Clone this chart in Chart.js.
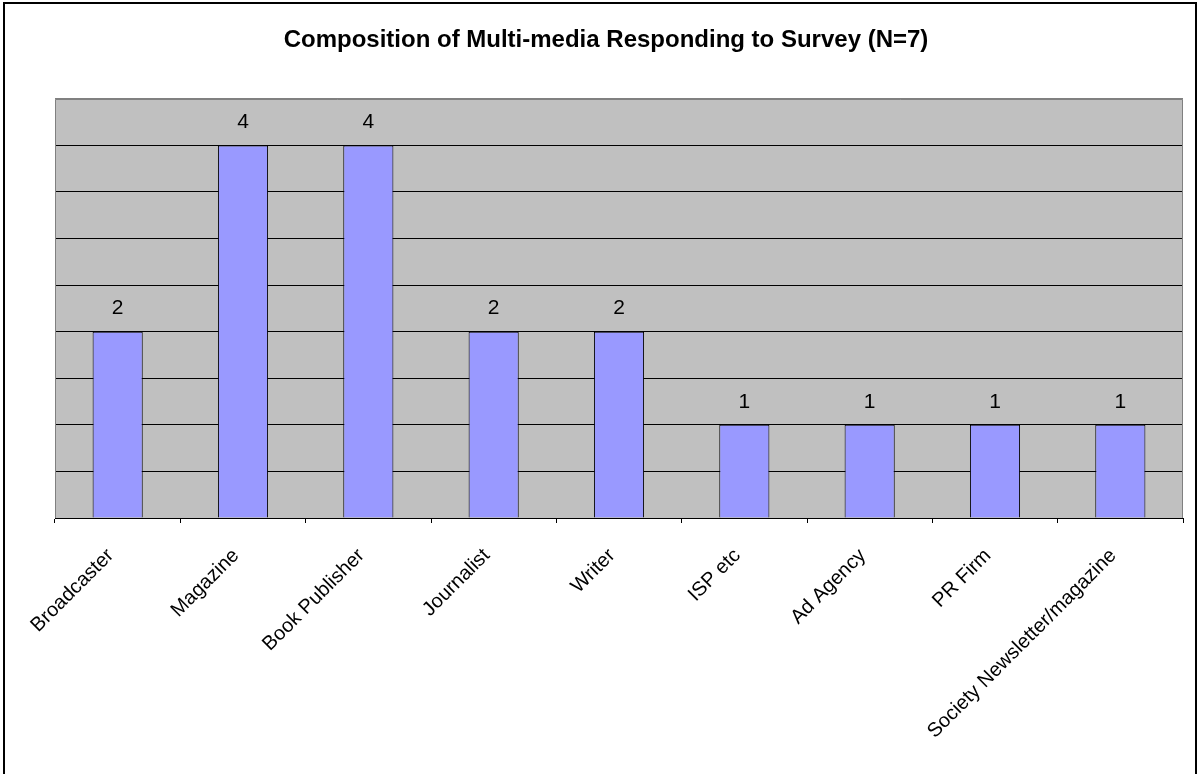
<!DOCTYPE html>
<html>
<head>
<meta charset="utf-8">
<script src="https://cdn.jsdelivr.net/npm/chart.js@4/dist/chart.umd.min.js"></script>
<style>
  html, body { margin: 0; padding: 0; background: #fff; }
  #wrap { width: 1199px; height: 774px; }
</style>
</head>
<body>
<div id="wrap"><canvas id="mediaChart" width="1199" height="774"></canvas></div>
<script>
let categories = ["Broadcaster", "Magazine", "Book Publisher", "Journalist", "Writer",
    "ISP etc", "Ad Agency", "PR Firm", "Society Newsletter/magazine"];
let counts = [2, 4, 4, 2, 2, 1, 1, 1, 1];
let yMax = 4.5;
let yStep = 0.5;

let FONT = "Arial, 'Liberation Sans', sans-serif";

// white page, outer frame and grey plot background
let framePlugin = {
    id: "frame",
    beforeDraw(chart) {
        let c = chart.ctx;
        let a = chart.chartArea;
        c.save();
        c.fillStyle = "#fff";
        c.fillRect(0, 0, chart.width, chart.height);
        c.strokeStyle = "#000";
        c.lineWidth = 2;
        c.strokeRect(4, 3, 1192, 800);
        c.fillStyle = "#c0c0c0";
        c.fillRect(a.left, a.top, a.right - a.left, a.bottom - a.top);
        c.restore();
    },
    beforeDatasetsDraw(chart) {
        let c = chart.ctx;
        let a = chart.chartArea;
        c.save();
        c.strokeStyle = "#808080";
        c.lineWidth = 1;
        c.beginPath();
        c.moveTo(Math.round(a.left) + 0.5, a.bottom);
        c.lineTo(Math.round(a.left) + 0.5, Math.round(a.top) + 0.5);
        c.lineTo(Math.round(a.right) - 0.5, Math.round(a.top) + 0.5);
        c.lineTo(Math.round(a.right) - 0.5, a.bottom);
        c.stroke();
        c.restore();
    }
};

// value above every bar
let valueLabels = {
    id: "valueLabels",
    afterDatasetsDraw(chart) {
        let c = chart.ctx;
        let meta = chart.getDatasetMeta(0);
        c.save();
        c.fillStyle = "#000";
        c.font = "21px " + FONT;
        c.textAlign = "center";
        c.textBaseline = "middle";
        meta.data.forEach((bar, i) => {
            c.fillText(String(counts[i]), bar.x, bar.y - 23);
        });
        c.restore();
    }
};

let ctx = document.getElementById("mediaChart").getContext("2d");
let mediaChart = new Chart(ctx, {
    type: "bar",
    data: {
        labels: categories,
        datasets: [{
            data: counts,
            backgroundColor: "#9999ff",
            borderColor: "#000",
            borderWidth: 1,
            categoryPercentage: 0.8,
            barPercentage: 0.5
        }]
    },
    options: {
        responsive: false,
        animation: false,
        layout: { padding: { left: 29, right: 16, top: 0, bottom: 0 } },
        plugins: {
            legend: { display: false },
            tooltip: { enabled: false },
            title: {
                display: true,
                text: "Composition of Multi-media Responding to Survey (N=7)",
                color: "#000",
                font: { family: FONT, size: 24, weight: "bold" },
                padding: { top: 26, bottom: 44 }
            }
        },
        scales: {
            x: {
                grid: {
                    drawOnChartArea: false,
                    drawTicks: true,
                    tickLength: 5,
                    color: "#000"
                },
                border: { color: "#000", width: 1 },
                ticks: {
                    autoSkip: false,
                    minRotation: 45,
                    maxRotation: 45,
                    padding: 21,
                    labelOffset: -7,
                    color: "#000",
                    font: { family: FONT, size: 20 }
                },
                afterFit(scale) { scale.height = 256; }
            },
            y: {
                min: 0,
                max: yMax,
                ticks: { stepSize: yStep, display: false },
                grid: {
                    drawTicks: false,
                    color: (c) => c.tick && c.tick.value === yMax ? "#808080" : "#000",
                    lineWidth: 1
                },
                border: { display: false },
                afterFit(scale) { scale.width = 26; }
            }
        }
    },
    plugins: [framePlugin, valueLabels]
});
</script>
</body>
</html>
